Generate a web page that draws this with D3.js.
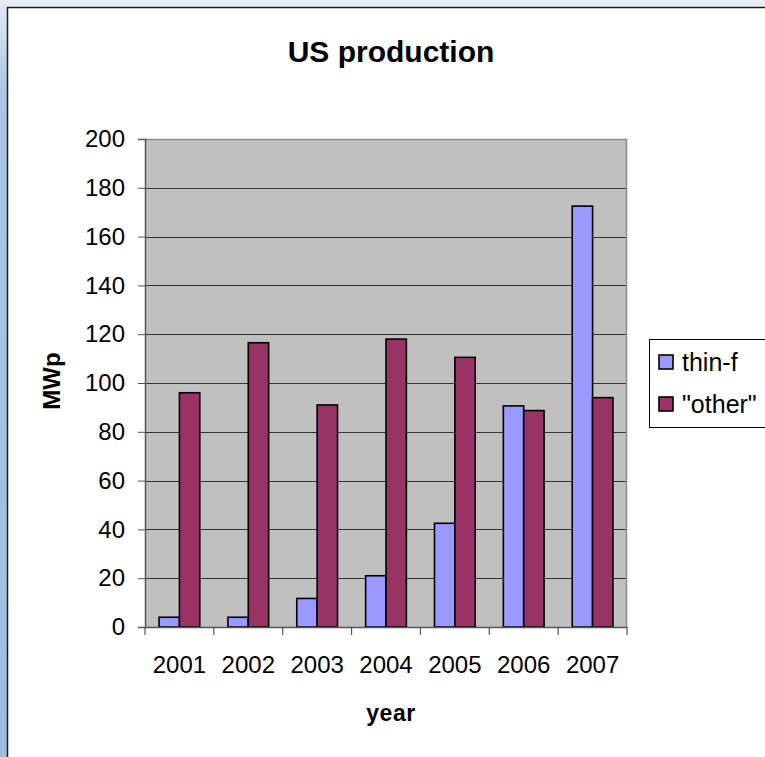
<html lang="en">
<head>
<script src="https://cdn.jsdelivr.net/npm/d3@7"></script>
<style>
body{margin:0;background:#e6edf5;overflow:hidden}
text{font-family:Arial,"Liberation Sans",sans-serif}
</style>
</head>
<body>
<div id="drawarea"></div>
<script>
// data
const years=["2001","2002","2003","2004","2005","2006","2007"]
const seriesNames=["thin-f","\"other\""]
const thinF=[4,4,11.7,21,42.5,90.6,172.5]
const other=[96,116.5,91,118,110.5,88.7,94]
const yTicks=[0,20,40,60,80,100,120,140,160,180,200]

const W=765,H=757
const plot={left:145,top:139,right:627,bottom:627}
const colors=["#9999ff","#993366"]

const svg=d3.select("#drawarea").append("svg").attr("width",W).attr("height",H)

// window frame
const defs=svg.append("defs")
const grad=defs.append("linearGradient").attr("id","edge").attr("x1",0).attr("y1",0).attr("x2",0).attr("y2",1)
grad.append("stop").attr("offset","0").attr("stop-color","#e4ebf4")
grad.append("stop").attr("offset","0.12").attr("stop-color","#aac6e4")
grad.append("stop").attr("offset","1").attr("stop-color","#9dbde0")
svg.append("rect").attr("x",0).attr("y",0).attr("width",W).attr("height",H).attr("fill","#e6edf5")
svg.append("rect").attr("x",0).attr("y",0).attr("width",7).attr("height",H).attr("fill","url(#edge)")
svg.append("rect").attr("x",7.5).attr("y",7.5).attr("width",W+20).attr("height",H+20)
  .attr("fill","white").attr("stroke","#1e1e1e").attr("stroke-width",1.5)

const x=d3.scaleBand().domain(years).range([plot.left,plot.right]).paddingInner(0).paddingOuter(0)
const xs=d3.scaleBand().domain([0,1]).range([0,x.bandwidth()]).paddingInner(0).paddingOuter(0.69)
const y=d3.scaleLinear().domain([0,200]).range([plot.bottom,plot.top])

// plot area
svg.append("rect").attr("x",plot.left).attr("y",plot.top).attr("width",plot.right-plot.left).attr("height",plot.bottom-plot.top)
  .attr("fill","#c0c0c0")
svg.append("g").selectAll("line").data(yTicks.filter(d=>d>0&&d<200)).join("line")
  .attr("x1",plot.left).attr("x2",plot.right).attr("y1",d=>Math.round(y(d))+0.5).attr("y2",d=>Math.round(y(d))+0.5)
  .attr("stroke","#333").attr("stroke-width",1)
svg.append("path").attr("d",`M${plot.left},${plot.top+0.5}H${plot.right-0.5}V${plot.bottom}`)
  .attr("fill","none").attr("stroke","#8a8a8a").attr("stroke-width",1.5)

// bars
const rows=years.map((yr,i)=>[thinF[i],other[i]])
const groups=svg.append("g").selectAll("g").data(rows).join("g")
  .attr("transform",(d,i)=>`translate(${x(years[i])},0)`)
groups.selectAll("rect").data(d=>d.map((v,k)=>({v,k}))).join("rect")
  .attr("x",d=>xs(d.k)).attr("width",xs.bandwidth())
  .attr("y",d=>y(d.v)).attr("height",d=>y(0)-y(d.v))
  .attr("fill",d=>colors[d.k]).attr("stroke","#000").attr("stroke-width",1.6)

// axes
const yAxis=d3.axisLeft(y).tickValues(yTicks).tickSize(7).tickPadding(13)
const gy=svg.append("g").attr("transform",`translate(${plot.left},0)`).call(yAxis)
gy.select(".domain").attr("stroke","#555").attr("stroke-width",1.5)
gy.selectAll(".tick line").attr("stroke","#555")
gy.selectAll("text").attr("font-size","24px").attr("fill","#000").attr("font-family","Arial,'Liberation Sans',sans-serif")

const gx=svg.append("g").attr("transform",`translate(0,${plot.bottom})`)
  .call(d3.axisBottom(x).tickSize(0).tickPadding(29))
gx.select(".domain").attr("stroke","#555").attr("stroke-width",1.5)
gx.selectAll("text").attr("font-size","24px").attr("fill","#000").attr("font-family","Arial,'Liberation Sans',sans-serif")
svg.append("g").selectAll("line").data(d3.range(years.length+1)).join("line")
  .attr("x1",i=>plot.left+i*x.step()).attr("x2",i=>plot.left+i*x.step())
  .attr("y1",plot.bottom).attr("y2",plot.bottom+8).attr("stroke","#555").attr("stroke-width",1.2)

// titles
svg.append("text").attr("x",391).attr("y",62).attr("text-anchor","middle")
  .attr("font-size","30px").attr("font-weight","bold").text("US production")
svg.append("text").attr("x",391).attr("y",721).attr("text-anchor","middle")
  .attr("font-size","23px").attr("font-weight","bold").attr("letter-spacing","0.5px").text("year")
svg.append("text").attr("transform","translate(60,381) rotate(-90)").attr("text-anchor","middle")
  .attr("font-size","24px").attr("font-weight","bold").text("MWp")

// legend
const lg=svg.append("g").attr("transform","translate(649,339)")
lg.append("rect").attr("x",0.5).attr("y",0.5).attr("width",140).attr("height",88)
  .attr("fill","white").attr("stroke","#000").attr("stroke-width",1)
const li=lg.selectAll("g").data(seriesNames).join("g").attr("transform",(d,i)=>`translate(0,${23+i*42})`)
li.append("rect").attr("x",10).attr("y",-7).attr("width",14).attr("height",14)
  .attr("fill",(d,i)=>colors[i]).attr("stroke","#000").attr("stroke-width",1.6)
li.append("text").attr("x",33).attr("y",0).attr("dy","0.35em").attr("font-size","25px").text(d=>d)
</script>
</body>
</html>
